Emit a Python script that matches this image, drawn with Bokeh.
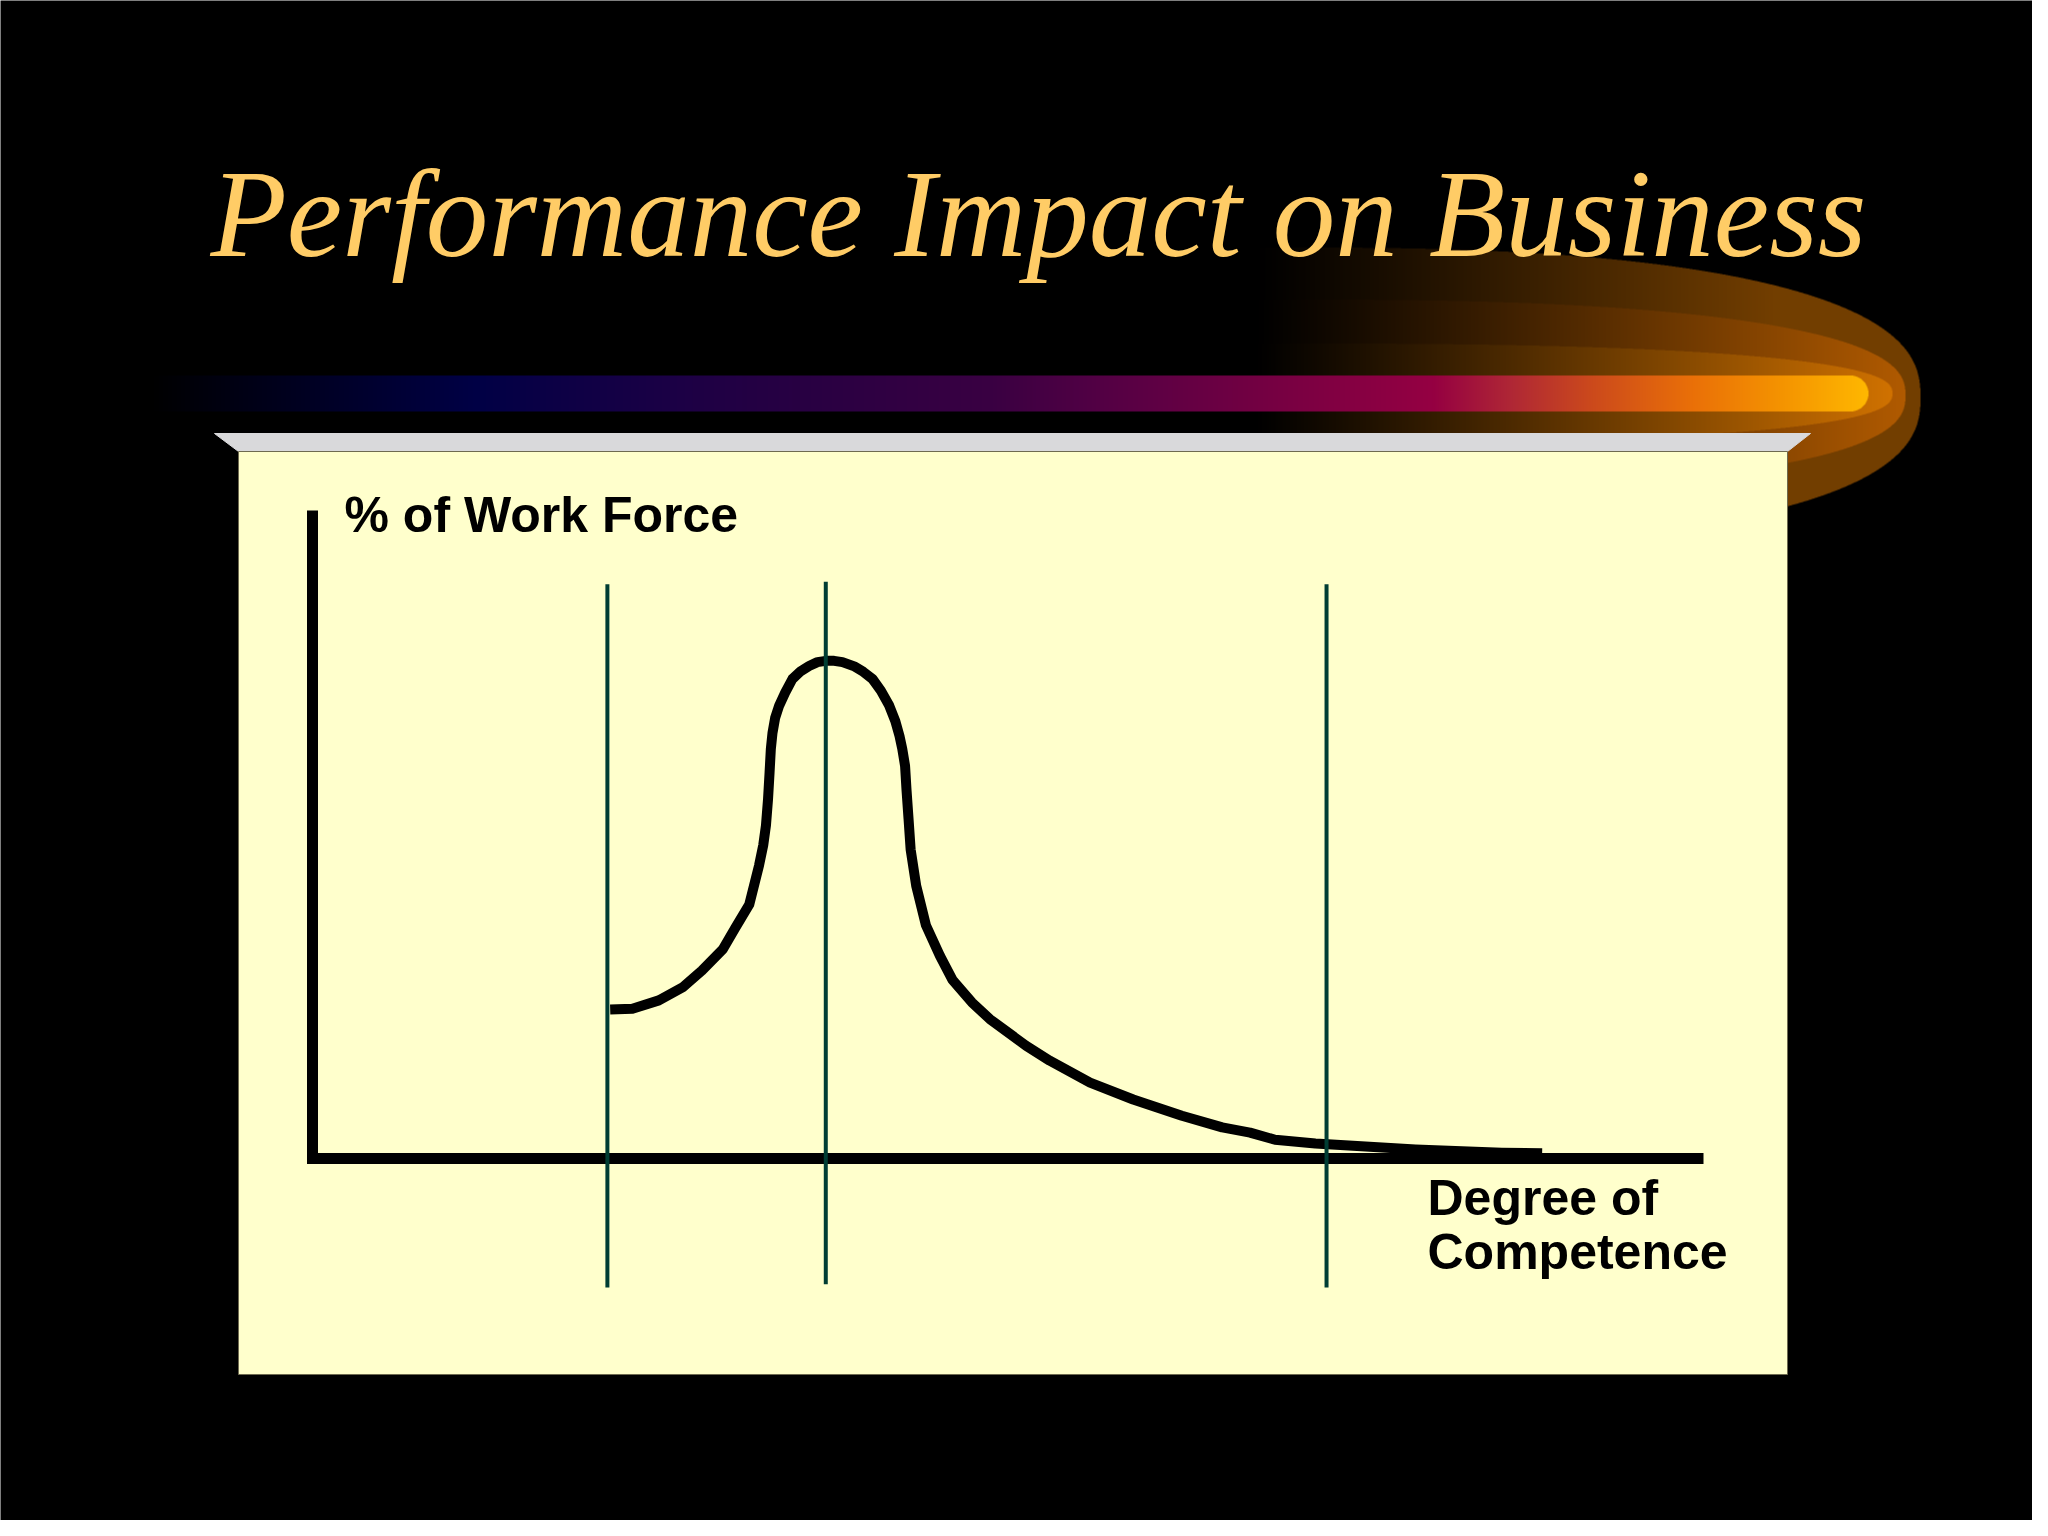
import numpy as np
from bokeh.plotting import figure
from bokeh.models import Range1d
from bokeh.embed import file_html
from bokeh.resources import INLINE
from bokeh.core.properties import value

# ---------------- data ----------------
title_text = "Performance Impact on Business"
y_label = "% of Work Force"
x_label_lines = ["Degree of", "Competence"]

# distribution curve: degree of competence (0-100) vs % of work force (0-100)
competence = [21.4, 23.0, 24.9, 26.6, 28.0, 29.5, 30.4, 31.4, 32.1, 32.4,
              32.6, 32.75, 32.86, 32.95, 33.07, 33.26, 33.55, 33.98, 34.5, 35.1,
              35.7, 36.3, 36.9, 37.5, 38.1, 39.0, 39.6, 40.26, 40.86, 41.46,
              41.9, 42.2, 42.4, 42.6, 42.7, 42.85, 43.0, 43.4, 44.1, 45.1,
              46.0, 47.4, 48.7, 51.3, 53.0, 55.9, 59.0, 62.5, 65.4, 67.4,
              69.2, 72.1, 74.5, 79.3, 85.5, 88.4]
workforce = [23.0, 23.1, 24.4, 26.4, 29.0, 32.3, 35.6, 39.2, 45.2, 48.3,
             51.4, 55.5, 59.6, 63.2, 65.7, 68.0, 69.9, 71.9, 74.0, 75.2,
             76.0, 76.6, 76.8, 76.8, 76.6, 75.9, 75.1, 74.0, 72.2, 69.9,
             67.5, 65.2, 63.2, 60.6, 57.0, 52.4, 47.7, 42.1, 36.0, 31.3,
             27.6, 24.1, 21.5, 17.4, 15.1, 11.7, 9.1, 6.6, 4.8, 4.0,
             2.9, 2.3, 2.0, 1.4, 0.9, 0.8]

# vertical marker lines (competence levels)
marker_levels = [21.2, 36.9, 72.9]
marker_top = [88.6, 89.0, 88.6]
marker_bottom = [-19.9, -19.4, -19.9]

# the L-shaped axes
axis_x = [0, 0, 100]
axis_y = [100, 0, 0]

# ---------------- layout (reference pixels) ----------------
W, H = 2048, 1536
ORIGIN_PX = (320.0, 1166.0)      # pixel of data (0, 0)
X100_PX = 1711.0                  # pixel of competence = 100
Y100_PX = 518.0                   # pixel of work force = 100
sx = (X100_PX - ORIGIN_PX[0]) / 100.0
sy = (ORIGIN_PX[1] - Y100_PX) / 100.0

def Y(yy):
    return H - yy

p = figure(width=2032, height=1520,
           x_range=Range1d((8 - ORIGIN_PX[0]) / sx, (2040 - ORIGIN_PX[0]) / sx),
           y_range=Range1d((ORIGIN_PX[1] - 1528) / sy, (ORIGIN_PX[1] - 8) / sy),
           x_axis_type=None, y_axis_type=None,
           toolbar_location=None, output_backend="svg",
           min_border=0, background_fill_color="black",
           border_fill_color="black", outline_line_color=None)
p.extra_x_ranges = {"px": Range1d(8, 2040)}
p.extra_y_ranges = {"py": Range1d(8, 1528)}

# ---------------- decorative swoosh + gradient bar (image) ----------------
IX0, IY0, IW, IH = 150, 240, 1790, 300
SS = 2
xs = IX0 + (np.arange(IW * SS) + 0.5) / SS
ys = IY0 + (np.arange(IH * SS) + 0.5) / SS
XX, YY = np.meshgrid(xs, ys)
rgb = np.zeros(XX.shape + (3,))

def superellipse(cx, cy, a, b, n=2.5):
    return (np.abs((XX - cx) / a) ** n + np.abs((YY - cy) / b) ** n) <= 1.0

tt = np.clip((XX - 1260) / (1910 - 1260), 0, 1)
layers = [(628, 150, 405, (0x72, 0x3e, 0x00), 0.8),
          (613, 96, 403, (0xb0, 0x5a, 0x00), 1.0),
          (600, 50, 401, (0xd4, 0x74, 0x00), 1.0)]
for a, b, cy, col, tmax in layers:
    m = superellipse(1300, cy, a, b) & (XX >= 1260)
    f = np.clip(tt / tmax, 0, 1) ** 1.1
    for k in range(3):
        rgb[..., k] = np.where(m, col[k] * f, rgb[..., k])

stop_x = [157, 250, 370, 480, 560, 700, 850, 1000, 1120, 1300, 1440, 1520, 1600, 1700, 1800, 1876]
stop_c = ["#000000", "#000015", "#00002e", "#000045", "#0c0045", "#1e0045", "#2c0042",
          "#3a0042", "#560045", "#7a0042", "#950042", "#b02835", "#cc4a1c", "#ea7008",
          "#f69800", "#ffb800"]
stop_rgb = np.array([[int(c[i:i + 2], 16) for i in (1, 3, 5)] for c in stop_c], dtype=float)
r = 18.0
bar = (YY >= 383) & (YY <= 419) & (XX >= 157) & (XX <= 1876)
cap = XX > 1876 - r
bar &= (~cap) | ((XX - (1876 - r)) ** 2 + (YY - 401) ** 2 <= r * r)
for k in range(3):
    rgb[..., k] = np.where(bar, np.interp(XX, stop_x, stop_rgb[:, k]), rgb[..., k])

rgb = rgb.reshape(IH, SS, IW, SS, 3).mean(axis=(1, 3))
rgb = rgb[::-1]
img = np.empty((IH, IW), dtype=np.uint32)
view = img.view(dtype=np.uint8).reshape((IH, IW, 4))
view[..., 0] = np.clip(rgb[..., 0], 0, 255).astype(np.uint8)
view[..., 1] = np.clip(rgb[..., 1], 0, 255).astype(np.uint8)
view[..., 2] = np.clip(rgb[..., 2], 0, 255).astype(np.uint8)
view[..., 3] = 255
p.image_rgba(image=[img], x=IX0, y=Y(IY0 + IH), dw=IW, dh=IH,
             x_range_name="px", y_range_name="py")

# ---------------- title ----------------
p.text(x=[218], y=[Y(221)], text=[title_text], x_range_name="px", y_range_name="py",
       text_font=value("Liberation Serif"), text_font_style="italic",
       text_font_size="125px", text_color="#FFCC66",
       text_baseline="alphabetic", text_align="left")

# ---------------- panel ----------------
p.patch(x=[222, 1818, 1795, 246], y=[Y(441), Y(441), Y(459), Y(459)],
        x_range_name="px", y_range_name="py",
        fill_color="#D9D9DB", line_color="#D9D9DB", line_width=1)
p.quad(left=[246], right=[1795], top=[Y(459)], bottom=[Y(1382)],
       x_range_name="px", y_range_name="py",
       fill_color="#FFFFCC", line_color="#6E6A50", line_width=1)

# ---------------- chart ----------------
p.line(axis_x, axis_y, line_width=11, line_color="black", line_join="miter")
p.line(competence, workforce, line_width=10, line_color="black", line_join="round")
p.segment(x0=marker_levels, y0=marker_bottom, x1=marker_levels, y1=marker_top,
          line_width=4, line_color="#003D33")

p.text(x=[352], y=[Y(522)], text=[y_label], x_range_name="px", y_range_name="py",
       text_font=value("Liberation Sans"), text_font_style="bold",
       text_font_size="50px", text_color="black",
       text_baseline="alphabetic", text_align="left")
p.text(x=[1435, 1435], y=[Y(1205), Y(1259)], text=x_label_lines,
       x_range_name="px", y_range_name="py",
       text_font=value("Liberation Sans"), text_font_style="bold",
       text_font_size="50px", text_color="black",
       text_baseline="alphabetic", text_align="left")

open("out.html", "w").write(file_html(p, INLINE))
